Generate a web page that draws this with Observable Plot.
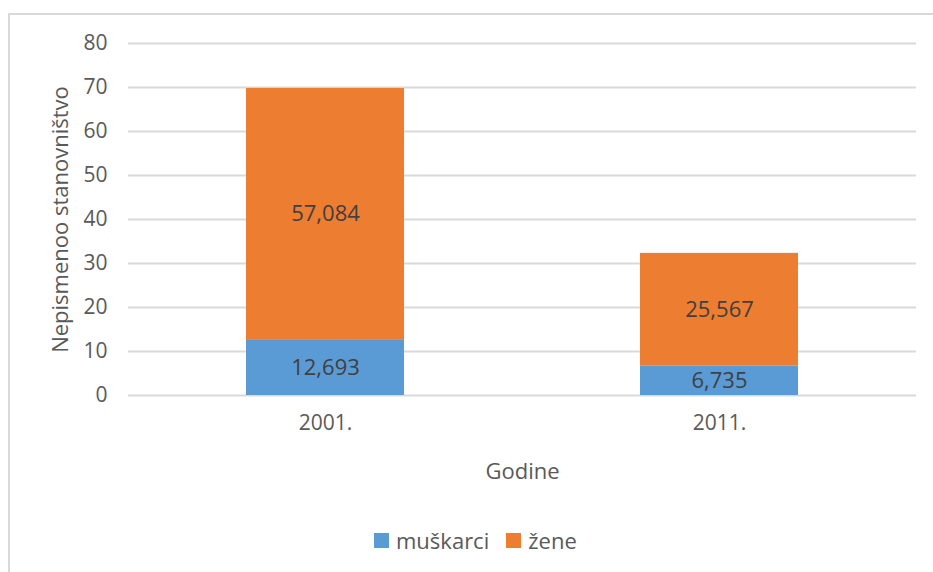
<!DOCTYPE html>
<html>
<head>
<meta charset="utf-8">
<script src="https://cdn.jsdelivr.net/npm/d3@7"></script>
<script src="https://cdn.jsdelivr.net/npm/@observablehq/plot@0.6"></script>
<style>
  html, body { margin: 0; padding: 0; background: #fff; }
  #wrap { position: relative; width: 933px; height: 572px; overflow: hidden; font-family: "Open Sans", sans-serif; }
  #frame { position: absolute; left: 8px; top: 13px; width: 940px; height: 600px; border-left: 2px solid #d9d9d9; border-top: 2px solid #d9d9d9; box-sizing: border-box; }
  #chart { position: absolute; left: 0; top: 0; }
  #legend { position: absolute; left: 374px; top: 524px; display: flex; align-items: center; font-size: 22px; color: #595959; line-height: 32px; }
  .sw { width: 15px; height: 15px; display: inline-block; margin-right: 7px; }
  .item { display: flex; align-items: center; margin-right: 17px; }
</style>
</head>
<body>
<div id="wrap">
  <div id="frame"></div>
  <div id="chart"></div>
  <div id="legend"></div>
</div>
<script>
const years = ["2001.", "2011."];
const seriesNames = ["muškarci", "žene"];
const muskarci = [12.693, 6.735];
const zene = [57.084, 25.567];
const seriesColors = ["#5B9BD5", "#ED7D31"];
const yTicks = [0, 10, 20, 30, 40, 50, 60, 70, 80];
const yLabel = "Nepismenoo stanovništvo";
const xLabel = "Godine";

const rows = [];
years.forEach((y, i) => {
  rows.push({year: y, series: seriesNames[0], value: muskarci[i]});
  rows.push({year: y, series: seriesNames[1], value: zene[i]});
});
const fmt = v => v.toFixed(3).replace(".", ",");

const chart = Plot.plot({
  width: 933,
  height: 510,
  marginTop: 43,
  marginBottom: 115,
  marginLeft: 128,
  marginRight: 17,
  style: {fontFamily: "'Open Sans', sans-serif", fontSize: "21px", background: "transparent"},
  x: {domain: years, paddingInner: 0.6, paddingOuter: 0.3, label: null},
  y: {domain: [0, 80], label: null},
  color: {domain: seriesNames, range: seriesColors},
  marks: [
    Plot.gridY(yTicks, {stroke: "#d9d9d9", strokeOpacity: 1, strokeWidth: 2}),
    Plot.barY(rows, Plot.stackY({x: "year", y: "value", z: "series", fill: "series", order: seriesNames})),
    Plot.text(rows, Plot.stackY({x: "year", y: "value", z: "series", order: seriesNames, text: d => fmt(d.value), fill: "#404040", fontSize: 22})),
    Plot.axisY(yTicks, {tickSize: 0, tickPadding: 21, fill: "#595959", fontSize: 21, label: null}),
    Plot.axisX({tickSize: 0, tickPadding: 20, fill: "#595959", fontSize: 21, label: null}),
    Plot.text([yLabel], {frameAnchor: "left", dx: -68, rotate: -90, textAnchor: "middle", lineAnchor: "middle", fill: "#595959", fontSize: 22}),
    Plot.text([xLabel], {frameAnchor: "bottom", dy: 83, fill: "#595959", fontSize: 22})
  ]
});
document.getElementById("chart").appendChild(chart);

const legend = document.getElementById("legend");
seriesNames.forEach((name, i) => {
  const item = document.createElement("span");
  item.className = "item";
  const sw = document.createElement("span");
  sw.className = "sw";
  sw.style.background = seriesColors[i];
  item.appendChild(sw);
  item.appendChild(document.createTextNode(name));
  legend.appendChild(item);
});
</script>
</body>
</html>
